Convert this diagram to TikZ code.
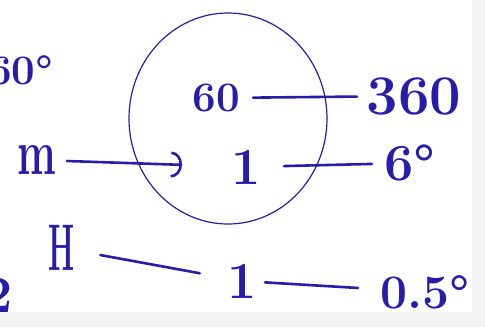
\documentclass[tikz,border=0pt]{standalone}
\usepackage{graphicx}
\usetikzlibrary{arrows.meta,shapes.geometric}
\definecolor{ink}{RGB}{40,28,170}
\definecolor{paper}{RGB}{243,243,243}
\begin{document}
\begin{tikzpicture}[x=1pt,y=-1pt,
  lbl/.style={text=ink,inner sep=0pt,font=\fontsize{42}{50}\selectfont\bfseries},
  big/.style={lbl,font=\fontsize{52}{60}\selectfont\bfseries},
  stroke/.style={draw=ink,line width=2.6pt,line cap=round},
]
\useasboundingbox (0,0) rectangle (485,327);
\fill[paper] (0,0) rectangle (485,327);
\fill[white] (0,0) rectangle (472,312);
\clip (0,0) rectangle (485,327);
% circle
\node[ellipse,draw=ink,line width=1.2pt,minimum width=198pt,minimum height=211pt,inner sep=0pt] (ring) at (228,118.5) {};
% labels
\node[lbl,anchor=base west] (tl) at (-12,84) {60°};
\node[big,anchor=base east] (two) at (13,312) {2};
\node[lbl] (sixty) at (216,98) {60};
\node[big,font=\fontsize{56}{60}\selectfont\bfseries] (threesixty) at (414,96) {360};
\node[lbl,font=\fontsize{46}{50}\selectfont\bfseries] (m) at (37,160) {\scalebox{0.9}[1.4]{m}};
\node[big] (one) at (246,167) {1};
\node[big] (six) at (410,163) {6°};
\node[lbl,font=\fontsize{66}{70}\selectfont\bfseries] (H) at (62,248) {\scalebox{0.45}[1]{H}};
\node[big] (onebot) at (242,281) {1};
\node[lbl,font=\fontsize{48}{54}\selectfont\bfseries] (half) at (425,292) {0.5°};
% connectors
\draw[stroke,shorten <=37pt,shorten >=57pt] (sixty.center) -- (threesixty.center);
\draw[stroke,shorten <=30pt,shorten >=64pt,-{Arc Barb[length=11pt,width=26pt]}] (m.center) -- (one.center);
\draw[stroke,shorten <=38pt,shorten >=38pt] (one.center) -- (six.center);
\draw[stroke,shorten <=39pt,shorten >=43pt] (H.center) -- (onebot.center);
\draw[stroke,shorten <=23pt,shorten >=67pt] (onebot.center) -- (half.center);
\end{tikzpicture}
\end{document}
